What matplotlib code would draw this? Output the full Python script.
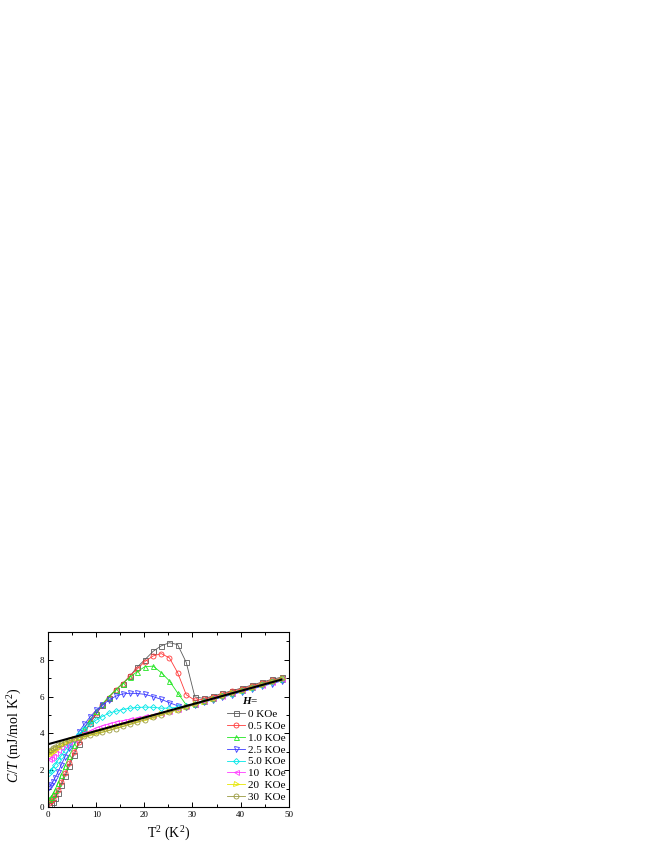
import matplotlib
matplotlib.use("Agg")
import matplotlib.pyplot as plt
from matplotlib.ticker import MultipleLocator

plt.rcParams['font.family'] = ['Liberation Serif', 'DejaVu Serif']
plt.rcParams['mathtext.fontset'] = 'custom'
plt.rcParams['mathtext.rm'] = 'Liberation Serif'
plt.rcParams['mathtext.it'] = 'Liberation Serif:italic'
plt.rcParams['mathtext.bf'] = 'Liberation Serif:bold:italic'

# T^2 (K^2) grid shared by all field curves
t2 = [0.2, 0.5, 0.9, 1.4, 2.0, 2.7, 3.5, 4.4, 5.35, 6.4, 7.5, 8.7, 9.95, 11.25,
      12.6, 14.0, 15.45, 16.95, 18.5, 20.1, 21.8, 23.5, 25.2, 26.9, 28.7, 30.5,
      32.4, 34.3, 36.2, 38.2, 40.2, 42.3, 44.4, 46.5, 48.6]

# C/T (mJ/mol K^2) for each field
h0 = [0.15, 0.2, 0.3, 0.5, 0.8, 1.2, 1.7, 2.25, 2.85, 3.45, 4.0, 4.55, 5.05, 5.55,
      5.95, 6.35, 6.7, 7.1, 7.6, 8.0, 8.45, 8.75, 8.92, 8.82, 7.85, 5.98,
      5.9, 6.03, 6.17, 6.32, 6.46, 6.62, 6.78, 6.93, 7.06]
h05 = [0.25, 0.32, 0.45, 0.65, 0.95, 1.35, 1.85, 2.4, 3.0, 3.55, 4.1, 4.6, 5.1, 5.55,
       5.95, 6.35, 6.7, 7.1, 7.5, 7.9, 8.2, 8.33, 8.1, 7.3, 6.1, 5.8,
       5.86, 6.0, 6.13, 6.28, 6.42, 6.57, 6.73, 6.88, 7.0]
h10 = [0.45, 0.55, 0.7, 0.95, 1.3, 1.75, 2.25, 2.8, 3.35, 3.85, 4.3, 4.75, 5.2, 5.6,
       6.0, 6.35, 6.7, 7.05, 7.35, 7.62, 7.65, 7.3, 6.85, 6.2, 5.55, 5.58,
       5.78, 5.93, 6.07, 6.22, 6.36, 6.51, 6.67, 6.82, 6.96]
h25 = [1.1, 1.2, 1.35, 1.6, 1.9, 2.3, 2.75, 3.2, 3.65, 4.1, 4.5, 4.9, 5.25, 5.55,
       5.8, 6.02, 6.14, 6.18, 6.17, 6.12, 6.0, 5.85, 5.67, 5.5, 5.45, 5.55,
       5.7, 5.83, 5.96, 6.1, 6.25, 6.4, 6.55, 6.7, 6.85]
h50 = [1.85, 1.95, 2.1, 2.3, 2.55, 2.8, 3.1, 3.4, 3.7, 3.97, 4.22, 4.5, 4.72, 4.92,
       5.1, 5.2, 5.3, 5.37, 5.41, 5.43, 5.42, 5.37, 5.38, 5.42, 5.5, 5.6,
       5.74, 5.88, 6.02, 6.16, 6.3, 6.46, 6.62, 6.77, 6.95]
h100 = [2.6, 2.68, 2.8, 2.95, 3.1, 3.25, 3.4, 3.55, 3.7, 3.85, 4.0, 4.15, 4.3, 4.42,
        4.52, 4.62, 4.7, 4.77, 4.85, 4.93, 5.02, 5.12, 5.22, 5.35, 5.48, 5.62,
        5.76, 5.9, 6.04, 6.19, 6.34, 6.5, 6.65, 6.8, 6.96]
h200 = [2.85, 2.92, 3.02, 3.12, 3.23, 3.35, 3.47, 3.58, 3.68, 3.78, 3.87, 3.96, 4.05, 4.15,
        4.25, 4.35, 4.45, 4.56, 4.67, 4.79, 4.91, 5.04, 5.17, 5.3, 5.44, 5.58,
        5.73, 5.88, 6.02, 6.17, 6.32, 6.48, 6.64, 6.8, 6.96]
h300 = [3.05, 3.12, 3.2, 3.28, 3.36, 3.45, 3.54, 3.62, 3.7, 3.77, 3.84, 3.92, 4.0, 4.08,
        4.17, 4.27, 4.38, 4.5, 4.62, 4.74, 4.87, 5.0, 5.14, 5.28, 5.43, 5.58,
        5.74, 5.89, 6.04, 6.2, 6.36, 6.52, 6.68, 6.84, 7.0]

# linear fit (gamma + beta T^2)
fit_x = [0.0, 48.5]
fit_y = [3.42, 6.92]

labels = ["0 KOe", "0.5 KOe", "1.0 KOe", "2.5 KOe", "5.0 KOe", "10  KOe", "20  KOe", "30  KOe"]
series = [h0, h05, h10, h25, h50, h100, h200, h300]
colors = ["#5a5a5a", "#ff3a3a", "#22e622", "#3a3aff", "#00e8e8", "#ff3aff", "#e6e600", "#9a9a40"]
markers = ["s", "o", "^", "v", "D", "<", ">", "o"]

fig = plt.figure(figsize=(6.64, 8.60), dpi=100)
ax = fig.add_axes([0.0727, 0.0613, 0.362, 0.2038])

for y, lab, c, m in zip(series, labels, colors, markers):
    ms = 3.0 if m == "D" else 3.6
    ax.plot(t2, y, color=c, marker=m, ms=ms, mfc="none", mec=c, mew=0.6,
            lw=0.6, label=lab)
ax.plot(fit_x, fit_y, color="black", lw=1.5, zorder=10)

ax.set_xlim(0, 50)
ax.set_ylim(0, 9.5)
ax.xaxis.set_major_locator(MultipleLocator(10))
ax.xaxis.set_minor_locator(MultipleLocator(5))
ax.yaxis.set_major_locator(MultipleLocator(2))
ax.yaxis.set_minor_locator(MultipleLocator(1))
ax.tick_params(which="both", direction="in", top=True, right=True, labelsize=6.5, width=0.7, pad=3)
ax.tick_params(which="major", length=3.5)
ax.tick_params(which="minor", length=2)
for s in ax.spines.values():
    s.set_linewidth(0.8)

ax.set_xlabel(r"T$^2$ (K$^2$)", fontsize=10, labelpad=4)
ax.set_ylabel(r"$C/T$ (mJ/mol K$^2$)", fontsize=10)
ax.yaxis.set_label_coords(-0.1, 0.41)

ax.text(0.805, 0.61, r"$\mathbf{H}$=", transform=ax.transAxes, fontsize=8,
        ha="left", va="center")
ax.legend(loc="upper left", bbox_to_anchor=(0.745, 0.56), frameon=False,
          fontsize=8, borderpad=0, borderaxespad=0, labelspacing=0.19,
          handlelength=1.6, handletextpad=0.3)

plt.savefig("out.png", dpi=100)
